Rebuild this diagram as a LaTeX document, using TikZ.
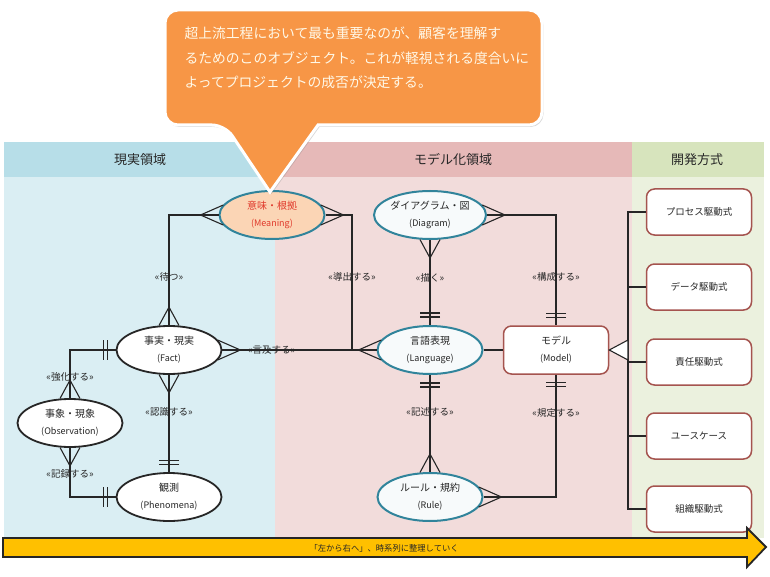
\documentclass[tikz,border=0pt]{standalone}
\usepackage{fontspec}
\setmainfont{Noto Sans CJK JP}
\usetikzlibrary{shapes.geometric,shadows}
\definecolor{hdblu}{HTML}{B7DEE8}
\definecolor{bgblu}{HTML}{DAEEF3}
\definecolor{hdros}{HTML}{E6B9B8}
\definecolor{bgros}{HTML}{F2DCDB}
\definecolor{hdver}{HTML}{D7E4BD}
\definecolor{bgver}{HTML}{EBF1DE}
\definecolor{arancio}{HTML}{F79646}
\definecolor{crema}{HTML}{FFF8E7}
\definecolor{pesca}{HTML}{FBD5B5}
\definecolor{bordo}{HTML}{31849B}
\definecolor{mattone}{HTML}{A5544F}
\definecolor{giallo}{HTML}{FFC000}
\definecolor{rosso}{HTML}{E0392B}
\definecolor{linea}{HTML}{262626}
\newcommand\eng[1]{\\{\fontsize{9}{9}\selectfont(#1)}}
\tikzset{
  ogg/.style   = {ellipse, draw=linea, line width=1.8pt, fill=white, minimum width=105pt, minimum height=48pt, inner sep=0, align=center, text=linea, font=\fontsize{10}{17}\selectfont},
  dom/.style   = {ogg, draw=bordo, line width=2pt, fill=bordo!4},
  box/.style   = {rectangle, rounded corners=8pt, draw=mattone, line width=1.5pt, fill=white, minimum width=105pt, minimum height=48pt, inner sep=0, align=center, text=linea, font=\fontsize{10}{17}\selectfont},
  metodo/.style= {box, minimum height=46pt, font=\fontsize{9.5}{10}\selectfont},
  link/.style  = {draw=linea, line width=1.1pt},
  lab/.style   = {text=linea, font=\fontsize{9.5}{10}\selectfont},
  hd/.style    = {text=linea, font=\fontsize{13}{13}\selectfont},
  crow/.pic    = {\draw[link] (-10,-#1) -- (0,18) -- (10,-#1);},
  bars/.pic    = {\draw[link] (-10,8) -- (10,8) (-10,12) -- (10,12);}
}
\begin{document}
\begin{tikzpicture}[x=1pt, y=-1pt]
  \useasboundingbox (0,0) rectangle (770,577);

  % ---- fasce ----
  \fill[hdblu] (4,142) rectangle (275,177);   \fill[bgblu] (4,177) rectangle (275,538);
  \fill[hdros] (275,142) rectangle (632,177); \fill[bgros] (275,177) rectangle (632,538);
  \fill[hdver] (632,142) rectangle (764,177); \fill[bgver] (632,177) rectangle (764,538);
  \node[hd] (h1) at (140,160) {現実領域};
  \node[hd] (h2) at (453,160) {モデル化領域};
  \node[hd] (h3) at (697,160) {開発方式};

  % ---- oggetti ----
  \node[dom, fill=pesca, text=rosso] (mean) at (272,215) {意味・根拠\eng{Meaning}};
  \node[ogg] (fact) at (169,350) {事実・現実\eng{Fact}};
  \node[ogg] (obs)  at (70,423)  {事象・現象\eng{Observation}};
  \node[ogg] (phen) at (169,497) {観測\eng{Phenomena}};
  \node[dom] (diag) at (430,215) {ダイアグラム・図\eng{Diagram}};
  \node[dom] (lang) at (430,350) {言語表現\eng{Language}};
  \node[dom] (rule) at (430,497) {ルール・規約\eng{Rule}};
  \node[box] (model) at (556,350) {モデル\eng{Model}};
  \coordinate (j) at (352,350);

  % ---- relazioni ----
  \draw[link] (mean.west) -| (fact.north) node[lab, pos=.78] (r1) {«待つ»};
  \draw[link] (mean.east) -| (j) node[lab, pos=.73] (r2) {«導出する»};
  \draw[link] (fact.east) -- (lang.west) node[lab, pos=.32] (r3) {«言及する»};
  \draw[link] (fact.south) -- (phen.north) node[lab, pos=.38] (r4) {«認識する»};
  \draw[link] (fact.west) -| (obs.north) node[lab, pos=.78] (r5) {«強化する»};
  \draw[link] (obs.south) |- (phen.west) node[lab, pos=.26] (r6) {«記録する»};
  \draw[link] (diag.south) -- (lang.north) node[lab, pos=.44] (r7) {«描く»};
  \draw[link] (diag.east) -| (model.north) node[lab, pos=.78] (r8) {«構成する»};
  \draw[link] (lang.east) -- (model.west);
  \draw[link] (lang.south) -- (rule.north) node[lab, pos=.38] (r9) {«記述する»};
  \draw[link] (model.south) |- (rule.east) node[lab, pos=.155] (r10) {«規定する»};

  % ---- molteplicita ----
  \pic[rotate=-90] at (mean.west) {crow=4.8};
  \pic[rotate=90]  at (mean.east) {crow=4.8};
  \pic[rotate=180] at (fact.north) {crow=0.4};
  \pic[rotate=90]  at (fact.east) {crow=4.8};
  \pic             at (fact.south) {crow=0.4};
  \pic[rotate=-90] at (fact.west) {bars};
  \pic[rotate=180] at (obs.north) {crow=0.4};
  \pic             at (obs.south) {crow=0.4};
  \pic[rotate=180] at (phen.north) {bars};
  \pic[rotate=-90] at (phen.west) {bars};
  \pic             at (diag.south) {crow=0.4};
  \pic[rotate=90]  at (diag.east) {crow=4.8};
  \pic[rotate=-90] at (lang.west) {crow=4.8};
  \pic[rotate=180] at (lang.north) {bars};
  \pic             at (lang.south) {bars};
  \pic[rotate=180] at (rule.north) {crow=0.4};
  \pic[rotate=90]  at (rule.east) {crow=4.8};
  \pic[rotate=180] at (model.north) {bars};
  \pic             at (model.south) {bars};

  % ---- metodi ----
  \node[metodo] (m1) at (699,212) {プロセス駆動式};
  \node[metodo] (m2) at (699,287) {データ駆動式};
  \node[metodo] (m3) at (699,362) {責任駆動式};
  \node[metodo] (m4) at (699,436) {ユースケース};
  \node[metodo] (m5) at (699,509) {組織駆動式};
  \coordinate (tr) at (628,350);
  \foreach \b in {m1,m2,m3,m4,m5} \draw[link] (\b.west) -| (tr);
  \draw[link, fill=white] (model.east) -- ([yshift=10pt]tr) -- ([yshift=-10pt]tr) -- cycle;

  % ---- freccia ----
  \draw[fill=giallo, draw=linea, line width=1.8pt] (3,538) -- (747,538) -- (747,528) -- (766,547) -- (747,567) -- (747,557) -- (3,557) -- cycle;
  \node[anchor=west, text=linea, font=\fontsize{8.3}{9}\selectfont] (tempo) at (306,548) {「左から右へ」、時系列に整理していく};

  % ---- fumetto ----
  \path[fill=arancio, draw=white, line width=3pt, drop shadow={shadow xshift=1.5pt, shadow yshift=-2pt, opacity=.3}]
    (318,125) [rounded corners=13pt] -- (542,125) -- (542,10) -- (165,10) -- (165,125) -- (225,125) [sharp corners] -- (270,192) -- cycle;
  \node[anchor=west, align=left, text=crema, font=\fontsize{13.8}{24.5}\selectfont] (nota) at (181,58)
    {超上流工程において最も重要なのが、顧客を理解す\\るためのこのオブジェクト。これが軽視される度合いに\\よってプロジェクトの成否が決定する。};

\end{tikzpicture}
\end{document}
